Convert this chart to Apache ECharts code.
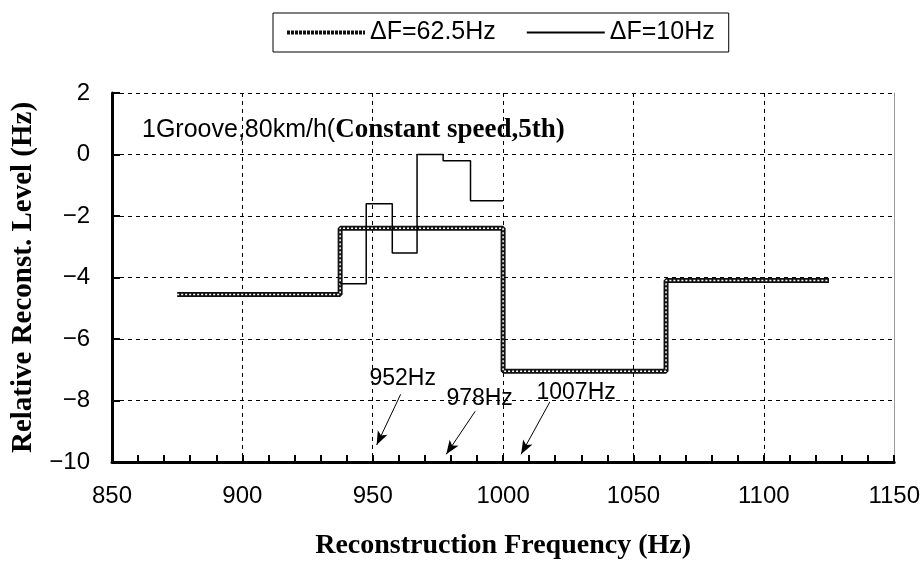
<!DOCTYPE html>
<html>
<head>
<meta charset="utf-8">
<script src="https://cdn.jsdelivr.net/npm/echarts@6/dist/echarts.min.js"></script>
<style>
  html, body { margin: 0; padding: 0; background: #fff; }
  #chart { width: 923px; height: 567px; }
</style>
</head>
<body>
<div id="chart"></div>
<script>
// 数据：频带边界 + 电平
const wideEdges = [875, 937.5, 1000, 1062.5, 1125];
const wideLevels = [-4.55, -2.4, -7.05, -4.1, -4.1];
const thinEdges = [937.5, 947.5, 957.5, 967, 977, 987.5, 1000];
const thinLevels = [-4.2, -1.6, -3.2, 0.0, -0.2, -1.5, -1.5];

// 箭头注释 (起点 -> 终点) 及文字
const noteLabels = ['952Hz', '978Hz', '1007Hz'];
const noteTextPos = [[961.5, -7.3], [991, -7.95], [1028, -7.75]];
const arrowFrom = [[960.7, -7.8], [989.3, -8.35], [1017.9, -8.05]];
const arrowTo = [[951.5, -9.45], [978.2, -9.75], [1006.9, -9.75]];

const sans = "'Liberation Sans', Arial, sans-serif";
const serif = "'Liberation Serif', 'Times New Roman', serif";

const wideData = wideEdges.map((x, i) => [x, wideLevels[i]]);
const thinData = thinEdges.map((x, i) => [x, thinLevels[i]]);

const chart = echarts.init(document.getElementById('chart'));

const option = {
    animation: false,
    title: {
        text: '{a|1Groove,80km/h(}{b|Constant speed,5th)}',
        left: 137,
        top: 112,
        textStyle: {
            rich: {
                a: { fontFamily: sans, fontSize: 25, fontWeight: 'normal', color: '#000' },
                b: { fontFamily: serif, fontSize: 27, fontWeight: 'bold', color: '#000' }
            }
        }
    },
    legend: {
        data: [
            { name: 'ΔF=62.5Hz', lineStyle: { color: '#111', width: 4, type: [3, 1] } },
            { name: 'ΔF=10Hz' }
        ],
        left: 273,
        top: 13,
        padding: [7, 14, 7, 12],
        itemWidth: 78,
        itemHeight: 14,
        itemGap: 30,
        itemStyle: { opacity: 0 },
        borderColor: '#000',
        borderWidth: 1,
        textStyle: { fontFamily: sans, fontSize: 25, color: '#000' }
    },
    grid: {
        left: 112,
        right: 27,
        top: 93,
        bottom: 105
    },
    xAxis: {
        type: 'value',
        min: 850,
        max: 1150,
        interval: 50,
        name: 'Reconstruction Frequency (Hz)',
        nameLocation: 'middle',
        nameGap: 70,
        nameTextStyle: { fontFamily: serif, fontSize: 28, fontWeight: 'bold', color: '#000' },
        axisLine: { show: true, onZero: false, lineStyle: { color: '#000', width: 3 } },
        axisTick: { show: true, inside: true, length: 7, lineStyle: { color: '#000', width: 2 } },
        minorTick: { show: true, splitNumber: 5, length: 7, lineStyle: { color: '#000', width: 2 } },
        axisLabel: { margin: 22, fontFamily: sans, fontSize: 24, color: '#000', formatter: v => String(v) },
        splitLine: { show: true, lineStyle: { color: '#000', width: 1, type: [4, 4] } }
    },
    yAxis: [{
        type: 'value',
        min: -10,
        max: 2,
        interval: 2,
        name: 'Relative Reconst. Level (Hz)',
        nameLocation: 'middle',
        nameGap: 72,
        nameTextStyle: { fontFamily: serif, fontSize: 29, fontWeight: 'bold', color: '#000' },
        axisLine: { show: true, lineStyle: { color: '#000', width: 3 } },
        axisTick: { show: true, inside: true, length: 8, lineStyle: { color: '#000', width: 2 } },
        axisLabel: { margin: 22, fontFamily: sans, fontSize: 24, color: '#000', formatter: v => String(v).replace('-', '−') },
        splitLine: { show: true, lineStyle: { color: '#000', width: 1, type: [4, 4] } }
    }, {
        type: 'value',
        min: -10,
        max: 2,
        interval: 2,
        position: 'right',
        axisLine: { show: true, lineStyle: { color: '#999', width: 1 } },
        axisTick: { show: false },
        axisLabel: { show: false },
        splitLine: { show: false }
    }],
    series: [
        {
            name: 'ΔF=62.5Hz',
            type: 'line',
            step: 'end',
            data: wideData,
            symbol: 'none',
            lineStyle: { color: '#111', width: 5 },
            itemStyle: { color: '#111' },
            z: 3
        },
        {
            name: 'chain',
            type: 'line',
            step: 'end',
            data: wideData,
            symbol: 'none',
            silent: true,
            lineStyle: { color: '#fff', width: 1.5, type: [2, 2] },
            z: 4
        },
        {
            name: 'ΔF=10Hz',
            type: 'line',
            step: 'end',
            data: thinData,
            symbol: 'none',
            lineStyle: { color: '#000', width: 1.5 },
            itemStyle: { color: '#000' },
            z: 5,
            markLine: {
                silent: true,
                symbol: ['none', 'arrow'],
                symbolSize: [8, 14],
                lineStyle: { color: '#000', width: 1, type: 'solid' },
                label: { show: false },
                data: arrowFrom.map((p, i) => [{ coord: p }, { coord: arrowTo[i] }])
            },
            markPoint: {
                silent: true,
                symbol: 'circle',
                symbolSize: 1,
                itemStyle: { color: 'rgba(0,0,0,0)' },
                label: {
                    show: true,
                    position: 'inside',
                    formatter: p => p.name,
                    fontFamily: sans,
                    fontSize: 23,
                    color: '#000'
                },
                data: noteLabels.map((t, i) => ({ name: t, coord: noteTextPos[i] }))
            }
        }
    ]
};

chart.setOption(option);
</script>
</body>
</html>
